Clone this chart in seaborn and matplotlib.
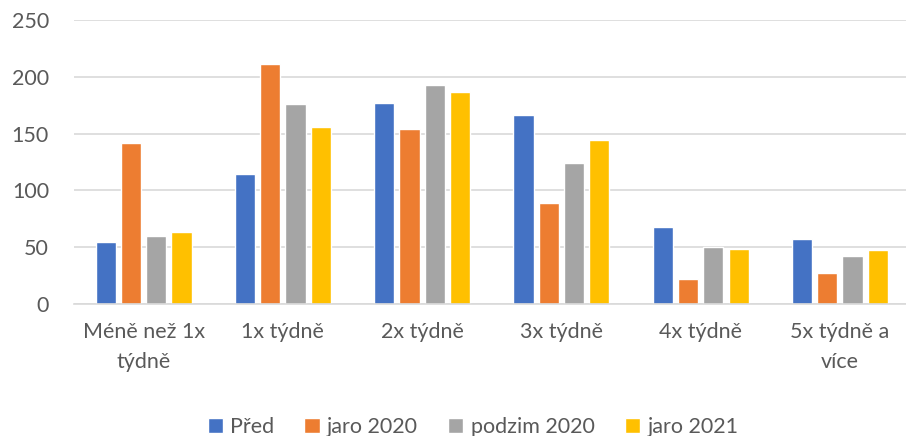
import matplotlib
matplotlib.use("Agg")
import matplotlib.pyplot as plt
import seaborn as sns
import pandas as pd

categories = ["Méně než 1x\ntýdně", "1x týdně", "2x týdně", "3x týdně", "4x týdně", "5x týdně a\nvíce"]
series_names = ["Před", "jaro 2020", "podzim 2020", "jaro 2021"]
pred = [54, 114, 177, 166, 68, 57]
jaro2020 = [142, 211, 154, 89, 22, 27]
podzim2020 = [60, 176, 193, 124, 50, 42]
jaro2021 = [63, 156, 187, 144, 48, 47]
colors = ["#4472C4", "#ED7D31", "#A5A5A5", "#FFC000"]
yticks = [0, 50, 100, 150, 200, 250]

rows = []
for name, vals in zip(series_names, [pred, jaro2020, podzim2020, jaro2021]):
    for c, v in zip(categories, vals):
        rows.append({"kategorie": c, "serie": name, "hodnota": v})
df = pd.DataFrame(rows)

sns.set_theme(style="white")
plt.rcParams["font.family"] = ["Lato", "DejaVu Sans"]

W, H = 906, 436
fig = plt.figure(figsize=(W / 100, H / 100), dpi=100)
ax = fig.add_axes([74 / W, (H - 303.8) / H, (909.6 - 74) / W, 283.8 / H])

sns.barplot(data=df, x="kategorie", y="hodnota", hue="serie", order=categories,
            hue_order=series_names, palette=colors, width=0.726, gap=0.2,
            saturation=1, ax=ax, legend=True)

ax.set_ylim(0, 250)
ax.set_xlim(-0.5, len(categories) - 0.5)
ax.set_yticks(yticks)
ax.yaxis.grid(True, color="#D9D9D9", linewidth=1.2)
ax.set_axisbelow(True)
for s in ["top", "right", "left"]:
    ax.spines[s].set_visible(False)
ax.spines["bottom"].set_color("#D9D9D9")
ax.spines["bottom"].set_linewidth(1.2)
ax.set_xlabel("")
ax.set_ylabel("")
ax.tick_params(axis="both", length=0, labelsize=15.5, labelcolor="#595959")
ax.tick_params(axis="y", pad=18)
ax.tick_params(axis="x", pad=13)
for lbl in ax.get_xticklabels():
    lbl.set_linespacing(1.65)

handles, labels = ax.get_legend_handles_labels()
ax.get_legend().remove()
fig.legend(handles, labels, loc="center", bbox_to_anchor=(473 / W, 1 - 427 / H), ncol=4,
           frameon=False, fontsize=15.5, labelcolor="#595959", handlelength=0.7,
           handleheight=0.7, handletextpad=0.35, columnspacing=1.4, borderaxespad=0)

fig.savefig("out.png", dpi=100)
